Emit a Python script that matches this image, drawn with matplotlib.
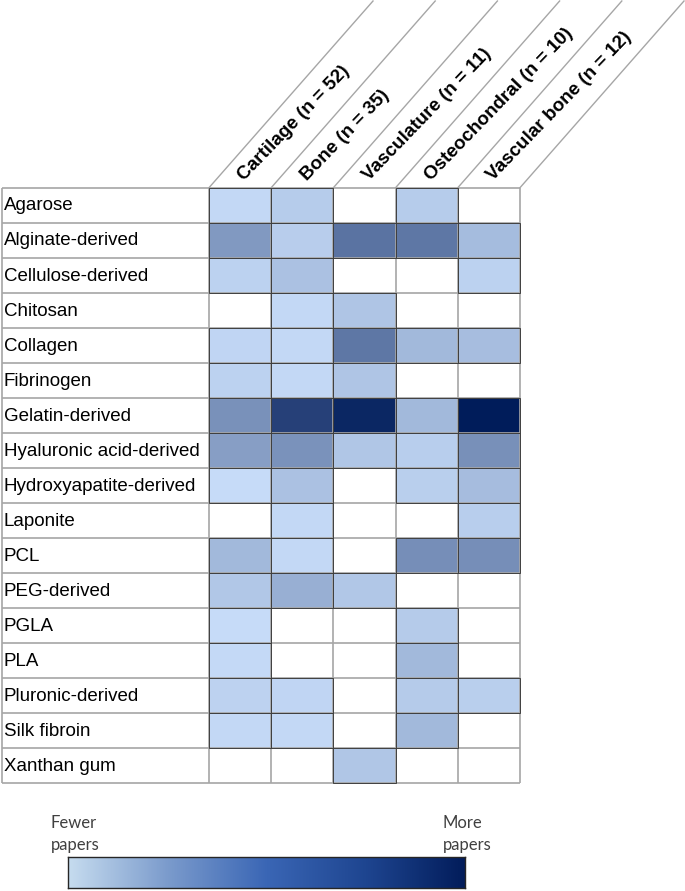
import numpy as np
import matplotlib
matplotlib.use('Agg')
import matplotlib.pyplot as plt
from matplotlib.colors import LinearSegmentedColormap
from matplotlib.patches import Rectangle

# datos: materiales (filas) y tejidos (columnas)
materials = ['Agarose', 'Alginate-derived', 'Cellulose-derived', 'Chitosan', 'Collagen',
             'Fibrinogen', 'Gelatin-derived', 'Hyaluronic acid-derived',
             'Hydroxyapatite-derived', 'Laponite', 'PCL', 'PEG-derived', 'PGLA', 'PLA',
             'Pluronic-derived', 'Silk fibroin', 'Xanthan gum']
tissues = ['Cartilage (n = 52)', 'Bone (n = 35)', 'Vasculature (n = 11)',
           'Osteochondral (n = 10)', 'Vascular bone (n = 12)']

# intensidad relativa (0 = sin papers, celda blanca)
cartilage     = [0.03, 0.355, 0.06, 0, 0.04, 0.06, 0.395, 0.325, 0.01, 0, 0.19, 0.115, 0.01, 0.02, 0.055, 0.03, 0]
bone          = [0.09, 0.085, 0.145, 0.03, 0.03, 0.03, 0.81, 0.39, 0.145, 0.03, 0.03, 0.24, 0, 0, 0.04, 0.03, 0]
vasculature   = [0, 0.55, 0, 0.125, 0.53, 0.125, 0.945, 0.12, 0, 0, 0, 0.115, 0, 0, 0, 0, 0.12]
osteochondral = [0.09, 0.53, 0, 0, 0.19, 0, 0.19, 0.08, 0.075, 0, 0.41, 0, 0.095, 0.19, 0.095, 0.19, 0]
vascular_bone = [0, 0.175, 0.06, 0, 0.165, 0, 1.0, 0.40, 0.17, 0.08, 0.41, 0, 0, 0, 0.075, 0, 0]

legend_low = 'Fewer\npapers'
legend_high = 'More\npapers'

vals = np.array([cartilage, bone, vasculature, osteochondral, vascular_bone]).T
masked = np.ma.masked_where(vals == 0, vals)

cell_cmap = LinearSegmentedColormap.from_list('cells', ['#c8ddf9', '#001c5a'])
bar_cmap = LinearSegmentedColormap.from_list(
    'bar', ['#c6dcef', '#7b9bcc', '#3a66b5', '#1e4590', '#021c5a'])

# geometria en pixeles de la figura
W, H = 685, 891
x0, y0 = 209, 187.7          # esquina superior izquierda de las celdas
cw, rh = 62.2, 35.04         # ancho columna, alto fila
label_w = (x0 - 2) / cw
rise = (y0 - 1) / rh          # altura de la cabecera inclinada (en filas)
run = 164 / cw                # desplazamiento horizontal (en columnas)

fig = plt.figure(figsize=(W / 100, H / 100), dpi=100)
ax = fig.add_axes([0, 0, 1, 1])
ax.set_xlim(-x0 / cw, (W - x0) / cw)
ax.set_ylim((H - y0) / rh, -y0 / rh)
ax.axis('off')

nrow, ncol = len(materials), len(tissues)
ax.pcolormesh(np.arange(ncol + 1), np.arange(nrow + 1), masked, cmap=cell_cmap,
              vmin=0, vmax=1, edgecolors='none', zorder=1)

grid = '#a6a6a6'
ax.hlines(np.arange(nrow + 1), -label_w, ncol, color=grid, lw=1.2, zorder=2)
ax.vlines(np.arange(ncol + 1), 0, nrow, color=grid, lw=1.2, zorder=2)
ax.vlines(-label_w, 0, nrow, color=grid, lw=1.2, zorder=2)

# borde oscuro en celdas con color
for r, c in zip(*np.nonzero(vals)):
    ax.add_patch(Rectangle((c, r), 1, 1, fill=False, ec='#404040', lw=0.7, zorder=3))

for i, m in enumerate(materials):
    ax.text(-label_w + 0.03, i + 0.52, m, ha='left', va='center',
            fontsize=13.5, family='Liberation Sans', color='black', zorder=4)

# cabecera inclinada
ang = np.degrees(np.arctan2(y0 - 1, 164))
for j in range(ncol + 1):
    ax.plot([j, j + run], [0, -rise], color=grid, lw=1.0, zorder=1)
for j, t in enumerate(tissues):
    ax.text(j + 0.5 + 0.02, -0.28, t, rotation=46, rotation_mode='anchor',
            ha='left', va='center', fontsize=13.6, fontweight='bold',
            family='Liberation Sans', color='black')

# barra de color
cax = fig.add_axes([68 / W, (H - 888) / H, 397 / W, 31 / H])
cax.imshow(np.linspace(0, 1, 256)[None, :], aspect='auto', cmap=bar_cmap)
cax.set_xticks([])
cax.set_yticks([])
for s in cax.spines.values():
    s.set_color('#262626')
    s.set_linewidth(1.0)

fig.text(51 / W, 1 - 815 / H, legend_low, ha='left', va='top', fontsize=12,
         family='Lato', color='#404040', linespacing=1.45)
fig.text(443 / W, 1 - 815 / H, legend_high, ha='left', va='top', fontsize=12,
         family='Lato', color='#404040', linespacing=1.45)

fig.savefig('out.png', dpi=100)
